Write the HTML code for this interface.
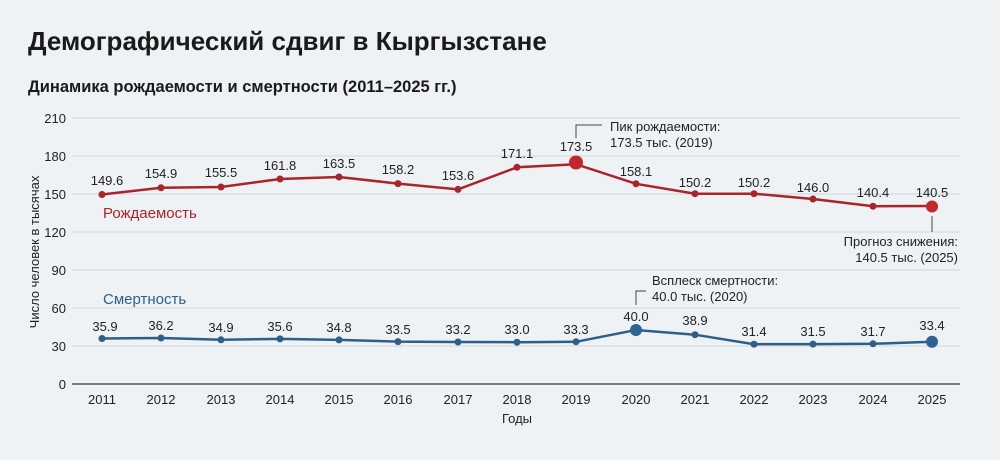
<!DOCTYPE html>
<html><head><meta charset="utf-8"><style>
html,body{margin:0;padding:0;background:#eef2f4;}
svg{display:block;font-family:"Liberation Sans",sans-serif;}
</style></head><body>
<svg width="1000" height="460" viewBox="0 0 1000 460" xmlns="http://www.w3.org/2000/svg">
<rect width="1000" height="460" fill="#eef2f4"/>
<text x="28" y="50" font-size="26" font-weight="bold" fill="#1a1a1a">Демографический сдвиг в Кыргызстане</text>
<text x="28" y="92" font-size="16.5" font-weight="bold" fill="#1a1a1a">Динамика рождаемости и смертности (2011–2025 гг.)</text>
<g stroke="#d0d6db" stroke-width="1">
<line x1="72" x2="960" y1="118" y2="118"/><line x1="72" x2="960" y1="156" y2="156"/>
<line x1="72" x2="960" y1="194" y2="194"/><line x1="72" x2="960" y1="232" y2="232"/>
<line x1="72" x2="960" y1="270" y2="270"/><line x1="72" x2="960" y1="308" y2="308"/>
<line x1="72" x2="960" y1="346" y2="346"/>
</g>
<line x1="72" x2="960" y1="384" y2="384" stroke="#555" stroke-width="1.5"/>
<g font-size="13" fill="#222" text-anchor="end">
<text x="66" y="123">210</text><text x="66" y="161">180</text><text x="66" y="199">150</text>
<text x="66" y="237">120</text><text x="66" y="275">90</text><text x="66" y="313">60</text>
<text x="66" y="351">30</text><text x="66" y="389">0</text>
</g>
<text transform="translate(39,252) rotate(-90)" font-size="13" fill="#222" text-anchor="middle">Число человек в тысячах</text>
<g font-size="13" fill="#222" text-anchor="middle">
<text x="102" y="404">2011</text><text x="161" y="404">2012</text><text x="221" y="404">2013</text>
<text x="280" y="404">2014</text><text x="339" y="404">2015</text><text x="398" y="404">2016</text>
<text x="458" y="404">2017</text><text x="517" y="404">2018</text><text x="576" y="404">2019</text>
<text x="636" y="404">2020</text><text x="695" y="404">2021</text><text x="754" y="404">2022</text>
<text x="813" y="404">2023</text><text x="873" y="404">2024</text><text x="932" y="404">2025</text>
<text x="517" y="423">Годы</text>
</g>
<polyline fill="none" stroke="#a8252a" stroke-width="2.5" points="102,194.5 161,187.8 221,187 280,179 339,177 398,183.6 458,189.4 517,167.3 576,164.2 636,183.8 695,193.7 754,193.7 813,199 873,206.2 932,206"/>
<g fill="#a8252a">
<circle cx="102" cy="194.5" r="3.5"/><circle cx="161" cy="187.8" r="3.5"/><circle cx="221" cy="187" r="3.5"/>
<circle cx="280" cy="179" r="3.5"/><circle cx="339" cy="177" r="3.5"/><circle cx="398" cy="183.6" r="3.5"/>
<circle cx="458" cy="189.4" r="3.5"/><circle cx="517" cy="167.3" r="3.5"/><circle cx="576" cy="162.5" r="7" fill="#c0282d"/>
<circle cx="636" cy="183.8" r="3.5"/><circle cx="695" cy="193.7" r="3.5"/><circle cx="754" cy="193.7" r="3.5"/>
<circle cx="813" cy="199" r="3.5"/><circle cx="873" cy="206.2" r="3.5"/><circle cx="932" cy="206.5" r="6" fill="#c0282d"/>
</g>
<g font-size="13" fill="#222" text-anchor="middle">
<text x="107" y="185">149.6</text><text x="161" y="178">154.9</text><text x="221" y="177">155.5</text>
<text x="280" y="170">161.8</text><text x="339" y="168">163.5</text><text x="398" y="174">158.2</text>
<text x="458" y="180">153.6</text><text x="517" y="158">171.1</text><text x="576" y="151">173.5</text>
<text x="636" y="176">158.1</text><text x="695" y="187">150.2</text><text x="754" y="187">150.2</text>
<text x="813" y="192">146.0</text><text x="873" y="197">140.4</text><text x="932" y="197">140.5</text>
</g>
<text x="103" y="218" font-size="15" fill="#a8252a">Рождаемость</text>
<path d="M576,138 L576,125 L602,125" fill="none" stroke="#444" stroke-width="1"/>
<text x="610" y="131" font-size="13" fill="#222">Пик рождаемости:</text>
<text x="610" y="147" font-size="13" fill="#222">173.5 тыс. (2019)</text>
<line x1="932" y1="216" x2="932" y2="232" stroke="#444" stroke-width="1"/>
<text x="958" y="246" font-size="13" fill="#222" text-anchor="end">Прогноз снижения:</text>
<text x="958" y="262" font-size="13" fill="#222" text-anchor="end">140.5 тыс. (2025)</text>
<polyline fill="none" stroke="#2f5f87" stroke-width="2.5" points="102,338.5 161,338 221,339.8 280,338.9 339,339.9 398,341.6 458,342 517,342.2 576,341.8 636,330 695,334.7 754,344.2 813,344.1 873,343.8 932,341.7"/>
<g fill="#2f5f87">
<circle cx="102" cy="338.5" r="3.5"/><circle cx="161" cy="338" r="3.5"/><circle cx="221" cy="339.8" r="3.5"/>
<circle cx="280" cy="338.9" r="3.5"/><circle cx="339" cy="339.9" r="3.5"/><circle cx="398" cy="341.6" r="3.5"/>
<circle cx="458" cy="342" r="3.5"/><circle cx="517" cy="342.2" r="3.5"/><circle cx="576" cy="341.8" r="3.5"/>
<circle cx="636" cy="330" r="6" fill="#2c6494"/><circle cx="695" cy="334.7" r="3.5"/><circle cx="754" cy="344.2" r="3.5"/>
<circle cx="813" cy="344.1" r="3.5"/><circle cx="873" cy="343.8" r="3.5"/><circle cx="932" cy="341.7" r="6" fill="#2c6494"/>
</g>
<g font-size="13" fill="#222" text-anchor="middle">
<text x="105" y="331">35.9</text><text x="161" y="330">36.2</text><text x="221" y="332">34.9</text>
<text x="280" y="331">35.6</text><text x="339" y="332">34.8</text><text x="398" y="334">33.5</text>
<text x="458" y="334">33.2</text><text x="517" y="334">33.0</text><text x="576" y="334">33.3</text>
<text x="636" y="321">40.0</text><text x="695" y="325">38.9</text><text x="754" y="336">31.4</text>
<text x="813" y="336">31.5</text><text x="873" y="336">31.7</text><text x="932" y="330">33.4</text>
</g>
<text x="103" y="304" font-size="15" fill="#2f5f87">Смертность</text>
<path d="M636,305 L636,291 L646,291" fill="none" stroke="#444" stroke-width="1"/>
<text x="652" y="285" font-size="13" fill="#222">Всплеск смертности:</text>
<text x="652" y="301" font-size="13" fill="#222">40.0 тыс. (2020)</text>
</svg>
</body></html>
